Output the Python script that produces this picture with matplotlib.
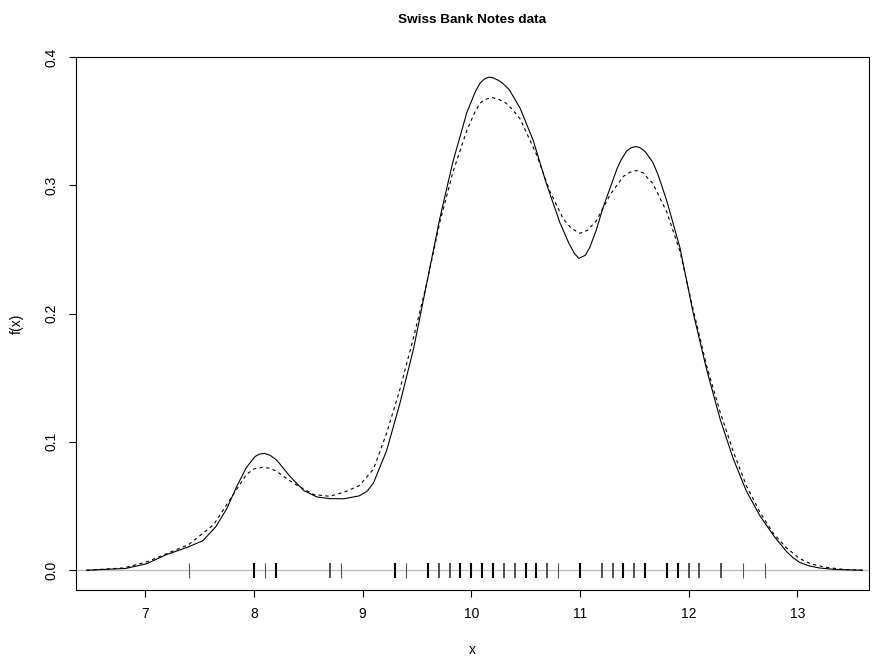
import matplotlib
matplotlib.use('Agg')
import matplotlib.pyplot as plt

# --- Data (Swiss bank notes, two density estimates) ---
x_solid = [6.46, 6.82, 7.01, 7.19, 7.39, 7.53, 7.65, 7.75, 7.84, 7.93, 8.01, 8.05, 8.096,
           8.15, 8.21, 8.33, 8.46, 8.58, 8.70, 8.83, 8.97, 9.04, 9.10, 9.22, 9.34, 9.47, 9.59,
           9.71, 9.83, 9.96, 10.04, 10.08, 10.12, 10.16, 10.20, 10.25, 10.29, 10.35, 10.45,
           10.57, 10.69, 10.815, 10.90, 10.95, 10.99, 11.05, 11.09, 11.15, 11.21, 11.34, 11.38,
           11.43, 11.47, 11.51, 11.55, 11.60, 11.67, 11.72, 11.80, 11.92, 12.04,
           12.165, 12.29, 12.41, 12.53, 12.655, 12.78, 12.90, 12.96, 13.02, 13.10, 13.20,
           13.35, 13.6]
y_solid = [0.0, 0.0014, 0.005, 0.012, 0.018, 0.023, 0.034, 0.048, 0.065, 0.080, 0.0886, 0.0905, 0.0911,
           0.0895, 0.0858, 0.0733, 0.062, 0.0571, 0.0558, 0.0557, 0.058, 0.0615, 0.068, 0.093, 0.129, 0.173, 0.2236,
           0.274, 0.318, 0.357, 0.3735, 0.3795, 0.3828, 0.3843, 0.3838, 0.3818, 0.3795, 0.3745, 0.360,
           0.335, 0.3016, 0.271, 0.2545, 0.2468, 0.243, 0.2455, 0.2515, 0.265, 0.282, 0.3127, 0.320,
           0.3267, 0.3292, 0.3302, 0.3295, 0.3263, 0.318, 0.308, 0.2876, 0.2515, 0.2013,
           0.1567, 0.1178, 0.0871, 0.062, 0.0426, 0.0272, 0.0147, 0.0098, 0.0062, 0.0036, 0.0018,
           0.0006, 0.0]

x_dashed = [6.46, 6.80, 7.01, 7.40, 7.63, 7.81, 7.93, 8.00, 8.08, 8.15, 8.21, 8.36, 8.55, 8.70, 8.85,
            8.97, 9.10, 9.22, 9.34, 9.47, 9.59, 9.71, 9.83, 9.96, 10.03, 10.08, 10.13, 10.19, 10.25,
            10.32, 10.38, 10.45, 10.60, 10.72, 10.845, 10.92, 11.0, 11.07, 11.15, 11.28, 11.40,
            11.46, 11.52, 11.58, 11.63, 11.67, 11.80,
            11.92, 12.04, 12.165, 12.29, 12.41, 12.53, 12.655, 12.78, 12.90, 13.02, 13.13, 13.27,
            13.42, 13.6]
y_dashed = [0.0, 0.0018, 0.0064, 0.020, 0.0356, 0.059, 0.0746, 0.0790, 0.0802, 0.0795, 0.077, 0.068, 0.059,
            0.0576, 0.0615, 0.066, 0.0788, 0.1066, 0.140, 0.1818, 0.2236, 0.271, 0.310, 0.343, 0.3565,
            0.364, 0.3670, 0.3684, 0.3672, 0.364, 0.359, 0.3517, 0.324, 0.296, 0.274, 0.2665, 0.2626,
            0.2650, 0.2723, 0.293, 0.307, 0.3102, 0.3115, 0.3098, 0.305, 0.3016, 0.279,
            0.2486, 0.204, 0.1596, 0.1233, 0.0927, 0.0662, 0.0454, 0.0287, 0.0175, 0.0092, 0.0048, 0.0022,
            0.0007, 0.0]

# rug positions and how heavy each tick looks (number of tied notes, roughly)
rug_x = [7.4, 8.0, 8.1, 8.2, 8.7, 8.8, 9.3, 9.4, 9.6, 9.7, 9.8, 9.9, 10.0, 10.1, 10.2,
         10.3, 10.4, 10.5, 10.6, 10.7, 10.8, 11.0, 11.2, 11.3, 11.4, 11.5, 11.6, 11.8,
         11.9, 12.0, 12.1, 12.3, 12.5, 12.7]
rug_n = [1, 3, 1, 3, 2, 1, 3, 1, 3, 2, 2, 3, 3, 3, 3,
         2, 2, 3, 3, 2, 1, 3, 2, 2, 3, 2, 3, 3,
         3, 2, 2, 2, 1, 1]

x_ticks = [7, 8, 9, 10, 11, 12, 13]
y_ticks = [0.0, 0.1, 0.2, 0.3, 0.4]

plt.rcParams['font.family'] = ['Liberation Sans', 'DejaVu Sans']

W, H = 872, 659
fig = plt.figure(figsize=(W / 100, H / 100), dpi=100)
# axes box in pixels (left, right, top, bottom)
left, right, top, bottom = 75.5, 869, 57, 590
ax = fig.add_axes([left / W, 1 - bottom / H, (right - left) / W, (bottom - top) / H])

ax.axhline(0, color='#bebebe', lw=1.0, zorder=1)
rug_style = {1: ('#555555', 0.8), 2: ('#222222', 1.1), 3: ('#000000', 1.5)}
for xv, n in zip(rug_x, rug_n):
    c, lw = rug_style[n]
    ax.vlines(xv, -0.0058, 0.006, colors=c, lw=lw, zorder=2)

ax.plot(x_solid, y_solid, color='black', lw=0.8, zorder=3)
ax.plot(x_dashed, y_dashed, color='black', lw=0.8, dashes=(3, 3), zorder=3)

ax.set_xlim(6.358, 13.66)
ax.set_ylim(-0.0154, 0.3997)
ax.set_xticks(x_ticks)
ax.set_xticklabels([str(v) for v in x_ticks])
ax.set_yticks(y_ticks)
ax.set_yticklabels(['%.1f' % v for v in y_ticks], rotation=90, va='center')
ax.tick_params(direction='out', length=5, width=0.8, labelsize=10, pad=7)
for s in ax.spines.values():
    s.set_linewidth(0.8)

fig.text((left + right) / 2 / W, 1 - 20 / H, 'Swiss Bank Notes data', ha='center', va='center',
         fontsize=9.7, fontweight='bold')
fig.text((left + right) / 2 / W, 1 - 650 / H, 'x', ha='center', va='center', fontsize=10)
fig.text(17 / W, 1 - ((top + bottom) / 2) / H, 'f(x)', ha='center', va='center',
         rotation=90, fontsize=10)

fig.savefig('out.png', dpi=100)
plt.close(fig)
